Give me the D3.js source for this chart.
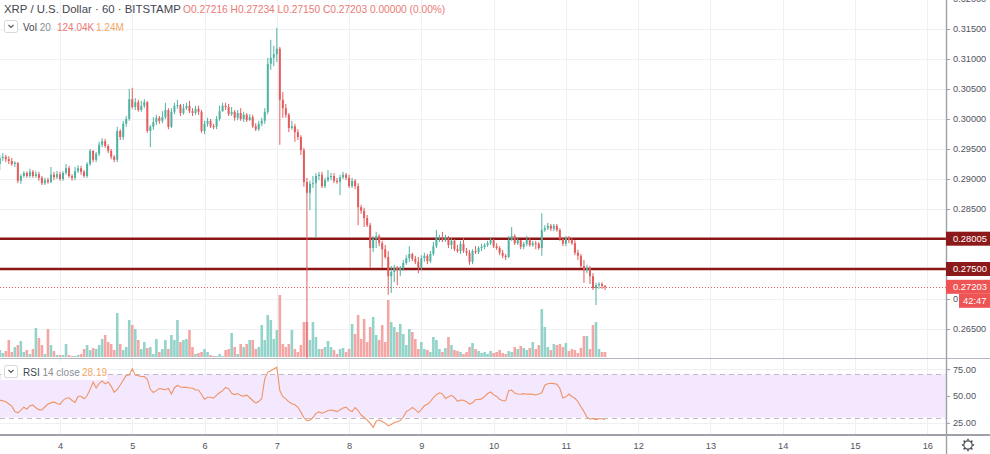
<!DOCTYPE html>
<html><head><meta charset="utf-8">
<script src="https://cdn.jsdelivr.net/npm/d3@7"></script>
<style>
body{margin:0;background:#fff;}
svg{display:block;font-family:"Liberation Sans",Arial,sans-serif;}
</style>
</head><body>
<svg id="chart" width="990" height="454"></svg>
<script>
// ---------- DATA ----------
const startDay = 3 + 4/24;          // first hourly candle: day 3, 04:00
const firstOpen = 0.2925;
const close = [
0.2935,0.2937,0.2933,0.2930,0.2925,0.2927,0.2897,0.2905,0.2910,0.2905,
0.2912,0.2905,0.2908,0.2902,0.2893,0.2898,0.2895,0.2907,0.2903,0.2908,
0.2900,0.2910,0.2918,0.2905,0.2902,0.2913,0.2918,0.2912,0.2905,0.2925,
0.2947,0.2932,0.2942,0.2957,0.2963,0.2955,0.2947,0.2937,0.2932,0.2980,
0.2970,0.2992,0.3000,0.3033,0.3020,0.3028,0.3015,0.3022,0.3028,0.2980,
0.2987,0.2995,0.3002,0.2997,0.3003,0.3015,0.2987,0.3012,0.3022,0.3023,
0.3010,0.3018,0.3022,0.3013,0.3010,0.3017,0.3012,0.2980,0.2992,0.2997,
0.2988,0.2987,0.3000,0.3013,0.3022,0.3020,0.3008,0.3012,0.3002,0.3010,
0.3000,0.3007,0.2998,0.3003,0.2988,0.2983,0.2992,0.2997,0.3012,0.3092,
0.3102,0.3108,0.3117,0.3032,0.3018,0.3007,0.2985,0.2988,0.2978,0.2970,
0.2948,0.2895,0.2877,0.2892,0.2893,0.2905,0.2907,0.2888,0.2898,0.2903,
0.2905,0.2897,0.2895,0.2903,0.2907,0.2902,0.2888,0.2897,0.2888,0.2853,
0.2847,0.2835,0.2823,0.2785,0.2800,0.2805,0.2793,0.2783,0.2770,0.2738,
0.2745,0.2752,0.2748,0.2752,0.2760,0.2768,0.2775,0.2767,0.2762,0.2752,
0.2768,0.2772,0.2763,0.2775,0.2788,0.2802,0.2803,0.2798,0.2803,0.2790,
0.2797,0.2783,0.2780,0.2792,0.2780,0.2777,0.2762,0.2780,0.2778,0.2785,
0.2787,0.2790,0.2793,0.2798,0.2788,0.2785,0.2777,0.2772,0.2770,0.2798,
0.2805,0.2793,0.2798,0.2787,0.2792,0.2798,0.2790,0.2793,0.2792,0.2785,
0.2815,0.2818,0.2822,0.2817,0.2822,0.2815,0.2800,0.2792,0.2802,0.2798,
0.2793,0.2777,0.2772,0.2755,0.2747,0.2752,0.2738,0.2718,0.2723,0.2725,
0.27216,0.27203];
const high = [
0.2940,0.2943,0.2940,0.2938,0.2935,0.2930,0.2928,0.2908,0.2913,0.2913,
0.2917,0.2915,0.2913,0.2912,0.2905,0.2902,0.2902,0.2920,0.2912,0.2913,
0.2912,0.2913,0.2925,0.2922,0.2908,0.2920,0.2923,0.2922,0.2915,0.2928,
0.2950,0.2948,0.2945,0.2962,0.2968,0.2967,0.2958,0.2950,0.2940,0.2987,
0.2983,0.2997,0.3005,0.3050,0.3052,0.3035,0.3032,0.3030,0.3033,0.3030,
0.2990,0.3003,0.3007,0.3005,0.3013,0.3027,0.3018,0.3018,0.3027,0.3032,
0.3025,0.3025,0.3027,0.3030,0.3018,0.3022,0.3022,0.3015,0.2997,0.3002,
0.3000,0.2992,0.3005,0.3022,0.3027,0.3027,0.3025,0.3020,0.3015,0.3015,
0.3018,0.3012,0.3010,0.3008,0.3007,0.2993,0.2997,0.3002,0.3018,0.3102,
0.3132,0.3122,0.3152,0.3120,0.3045,0.3025,0.3010,0.2997,0.2992,0.2983,
0.2973,0.2952,0.2902,0.2897,0.2905,0.2910,0.2912,0.2912,0.2902,0.2915,
0.2910,0.2910,0.2902,0.2907,0.2912,0.2910,0.2907,0.2902,0.2900,0.2893,
0.2857,0.2852,0.2840,0.2827,0.2805,0.2812,0.2808,0.2797,0.2790,0.2780,
0.2755,0.2757,0.2755,0.2755,0.2765,0.2773,0.2788,0.2777,0.2772,0.2770,
0.2773,0.2777,0.2775,0.2780,0.2795,0.2815,0.2807,0.2812,0.2807,0.2805,
0.2802,0.2800,0.2790,0.2797,0.2802,0.2785,0.2782,0.2783,0.2788,0.2788,
0.2792,0.2793,0.2797,0.2803,0.2800,0.2793,0.2788,0.2782,0.2775,0.2805,
0.2820,0.2808,0.2802,0.2798,0.2795,0.2805,0.2802,0.2797,0.2797,0.2795,
0.2843,0.2823,0.2827,0.2825,0.2825,0.2825,0.2818,0.2803,0.2805,0.2805,
0.2802,0.2798,0.2782,0.2775,0.2765,0.2757,0.2755,0.2743,0.2727,0.2728,
0.2728,0.27234];
const low = [
0.2915,0.2930,0.2928,0.2925,0.2922,0.2920,0.2893,0.2892,0.2902,0.2902,
0.2902,0.2902,0.2902,0.2897,0.2890,0.2890,0.2892,0.2893,0.2898,0.2900,
0.2897,0.2897,0.2907,0.2902,0.2897,0.2898,0.2910,0.2907,0.2902,0.2902,
0.2922,0.2928,0.2928,0.2938,0.2953,0.2952,0.2943,0.2933,0.2928,0.2928,
0.2965,0.2965,0.2987,0.2997,0.3017,0.3015,0.3012,0.3012,0.3018,0.2977,
0.2953,0.2982,0.2990,0.2992,0.2993,0.3000,0.2983,0.2985,0.3008,0.3017,
0.3005,0.3007,0.3015,0.3010,0.3005,0.3007,0.3007,0.2977,0.2975,0.2987,
0.2985,0.2983,0.2983,0.2997,0.3012,0.3015,0.3005,0.3005,0.2997,0.2998,
0.2997,0.2995,0.2995,0.2997,0.2985,0.2980,0.2980,0.2988,0.2992,0.3008,
0.3082,0.3088,0.3095,0.2957,0.3002,0.3002,0.2978,0.2982,0.2962,0.2965,
0.2940,0.2887,0.2530,0.2848,0.2885,0.2802,0.2898,0.2885,0.2885,0.2895,
0.2898,0.2893,0.2892,0.2873,0.2900,0.2898,0.2885,0.2885,0.2883,0.2823,
0.2842,0.2820,0.2820,0.2752,0.2778,0.2785,0.2788,0.2752,0.2767,0.2707,
0.2710,0.2728,0.2723,0.2738,0.2747,0.2757,0.2762,0.2763,0.2758,0.2743,
0.2748,0.2762,0.2758,0.2760,0.2772,0.2785,0.2795,0.2795,0.2795,0.2785,
0.2783,0.2780,0.2777,0.2775,0.2777,0.2772,0.2757,0.2758,0.2775,0.2775,
0.2780,0.2783,0.2787,0.2790,0.2785,0.2782,0.2773,0.2768,0.2765,0.2768,
0.2797,0.2790,0.2790,0.2783,0.2783,0.2788,0.2787,0.2787,0.2783,0.2782,
0.2772,0.2812,0.2815,0.2813,0.2813,0.2812,0.2797,0.2788,0.2788,0.2793,
0.2790,0.2773,0.2765,0.2752,0.2727,0.2743,0.2725,0.2715,0.2690,0.2717,
0.2717,0.27150];
// volume, thousands of XRP
const volume = [
175,100,150,425,125,250,300,400,125,175,
75,200,725,475,300,75,700,300,150,50,
50,50,325,50,25,25,50,75,200,300,
175,225,200,300,450,550,375,325,175,1100,
325,175,250,925,800,700,425,200,375,225,
250,75,450,125,200,425,200,550,425,925,
375,425,450,675,250,75,100,125,200,125,
50,25,25,75,25,175,200,600,250,75,
325,250,325,425,425,200,250,800,425,1050,
925,450,675,1550,325,250,325,675,200,125,
300,875,875,425,875,500,200,200,250,400,
250,175,75,200,225,125,200,825,575,1050,
450,950,375,750,1000,550,425,800,375,1425,
875,750,625,825,575,300,700,625,450,200,
375,200,175,125,500,425,200,125,225,500,
300,175,150,125,75,125,250,350,200,150,
100,125,75,150,100,125,175,100,75,150,
125,250,200,275,225,175,225,375,200,300,
1200,750,250,175,325,300,325,250,350,150,
200,175,100,225,525,525,200,800,875,200,
125,124.04];
const rsi = [
46.2,45.5,44.7,42.6,40.6,35.5,34.4,36.9,39.6,37.7,
41.0,41.5,39.1,37.3,37.0,40.0,42.5,43.6,44.5,43.1,
42.3,46.0,48.0,48.4,45.8,44.1,49.7,49.7,47.4,50.2,
56.4,62.9,57.5,61.6,64.0,61.3,63.0,59.0,53.4,56.1,
60.2,64.6,69.2,69.5,75.3,69.4,68.9,68.1,68.0,65.5,
56.2,53.3,55.0,56.9,56.4,55.8,57.0,51.9,57.7,59.8,
58.3,58.0,58.0,57.5,57.5,55.6,55.6,51.4,47.0,48.9,
48.8,48.0,50.8,53.0,55.0,58.0,56.9,52.6,51.3,52.3,
50.5,49.9,50.8,48.4,45.8,43.4,44.8,47.7,66.2,72.0,
73.5,75.1,76.8,55.0,49.4,47.4,44.6,42.9,41.8,39.5,
35.0,29.8,27.0,27.5,30.0,33.9,35.2,34.0,35.2,36.6,
37.0,36.4,35.5,37.2,38.9,39.6,36.9,35.5,39.3,36.5,
32.3,30.0,27.8,24.5,20.7,26.5,27.6,26.3,24.8,22.2,
23.5,25.4,26.1,27.2,30.5,35.6,37.1,39.3,37.4,34.6,
37.3,40.9,42.4,44.8,48.6,51.2,53.0,52.0,47.6,49.3,
50.6,48.6,45.0,46.2,46.0,44.7,42.5,43.8,46.6,46.9,
47.3,49.5,52.3,53.8,51.2,49.6,47.0,45.6,45.6,55.0,
55.5,52.7,51.9,51.6,52.2,51.7,51.8,51.5,50.9,51.8,
53.0,60.0,61.4,61.8,61.5,61.0,57.0,48.2,49.2,51.8,
49.5,47.9,44.9,40.0,35.5,30.4,28.4,29.2,27.9,28.9,
28.8,28.19];
const priceTicks = [0.265,0.27,0.275,0.28,0.285,0.29,0.295,0.30,0.305,0.31,0.315,0.32];
const rsiTicks = [25,50,75];
const rsiBand = [30,70];
const dayTicks = [4,5,6,7,8,9,10,11,12,13,14,15,16];
const levels = [0.28005, 0.275];
const lastPrice = 0.27203;
const countdown = "42:47";
const titleText = "XRP / U.S. Dollar · 60 · BITSTAMP";
const ohlcText = "O0.27216 H0.27234 L0.27150 C0.27203 0.00000 (0.00%)";
const volLegend = ["Vol", "20", "124.04K", "1.24M"];
const rsiLegend = ["RSI", "14 close", "28.19"];

// ---------- LAYOUT ----------
const W = 990, H = 454, plotR = 946;
const mainTop = 0, mainBot = 358, rsiTop = 359, rsiBot = 434;
const UP = "#4fb3a3", DOWN = "#e35d5d", UPV = "#93d3ca", DOWNV = "#f3a6a4";
const svg = d3.select("#chart");

const x = d3.scaleLinear().domain([3.1698, 16.2596]).range([0, plotR]);
const y = d3.scaleLinear().domain([0.26, 0.32]).range([359, -1]);
const yv = d3.scaleLinear().domain([0, d3.max(volume)]).range([357, 295]);
const yr = d3.scaleLinear().domain([25, 75]).range([422.9, 369.1]);

const candles = close.map((c, i) => ({
  t: startDay + i / 24,
  o: i === 0 ? firstOpen : close[i - 1],
  h: high[i], l: low[i], c: c, v: volume[i], r: rsi[i]
}));

svg.append("rect").attr("width", W).attr("height", H).attr("fill", "#fff");

const defs = svg.append("defs");
defs.append("clipPath").attr("id", "clipMain").append("rect")
  .attr("x", 0).attr("y", 0).attr("width", plotR).attr("height", mainBot);
defs.append("clipPath").attr("id", "clipRsi").append("rect")
  .attr("x", 0).attr("y", rsiTop).attr("width", plotR).attr("height", rsiBot - rsiTop);
// the countdown box hides the tail of the 0.27000 tick label
defs.append("clipPath").attr("id", "clipAxisLbl").append("rect")
  .attr("x", 0).attr("y", -20).attr("width", 12).attr("height", 40);

// grid
const grid = svg.append("g").attr("stroke", "#eef0f4").attr("stroke-width", 1);
priceTicks.forEach(p => {
  const yy = Math.round(y(p)) + 0.5;
  grid.append("line").attr("x1", 0).attr("x2", plotR).attr("y1", yy).attr("y2", yy);
});
rsiTicks.forEach(v => {
  const yy = Math.round(yr(v)) + 0.5;
  grid.append("line").attr("x1", 0).attr("x2", plotR).attr("y1", yy).attr("y2", yy);
});
dayTicks.forEach(d => {
  const xx = Math.round(x(d)) + 0.5;
  grid.append("line").attr("x1", xx).attr("x2", xx).attr("y1", 0).attr("y2", rsiBot);
});

// main pane
const main = svg.append("g").attr("clip-path", "url(#clipMain)");
main.append("g").selectAll("rect").data(candles).join("rect")
  .attr("x", d => x(d.t) - 1.3).attr("width", 2.6)
  .attr("y", d => yv(d.v)).attr("height", d => 357 - yv(d.v))
  .attr("fill", d => d.c >= d.o ? UPV : DOWNV);

// level lines
levels.forEach(p => {
  main.append("line").attr("x1", 0).attr("x2", plotR)
    .attr("y1", y(p)).attr("y2", y(p))
    .attr("stroke", "#8c1515").attr("stroke-width", 2.4);
});
main.append("line").attr("x1", 0).attr("x2", plotR)
  .attr("y1", Math.round(y(lastPrice)) + 0.5).attr("y2", Math.round(y(lastPrice)) + 0.5)
  .attr("stroke", "#e35d5d").attr("stroke-width", 1).attr("stroke-dasharray", "1,2");

const cg = main.append("g");
cg.selectAll("line").data(candles).join("line")
  .attr("x1", d => x(d.t)).attr("x2", d => x(d.t))
  .attr("y1", d => y(d.h)).attr("y2", d => y(d.l))
  .attr("stroke", d => d.c >= d.o ? UP : DOWN).attr("stroke-width", 1);
cg.selectAll("rect").data(candles).join("rect")
  .attr("x", d => x(d.t) - 1).attr("width", 2)
  .attr("y", d => y(Math.max(d.o, d.c)))
  .attr("height", d => Math.max(1, Math.abs(y(d.o) - y(d.c))))
  .attr("fill", d => d.c >= d.o ? UP : DOWN);

// RSI pane
const rp = svg.append("g").attr("clip-path", "url(#clipRsi)");
rp.append("rect").attr("x", 0).attr("width", plotR)
  .attr("y", yr(rsiBand[1])).attr("height", yr(rsiBand[0]) - yr(rsiBand[1]))
  .attr("fill", "#f4e8fe");
rsiBand.forEach(v => {
  rp.append("line").attr("x1", 0).attr("x2", plotR)
    .attr("y1", Math.round(yr(v)) + 0.5).attr("y2", Math.round(yr(v)) + 0.5)
    .attr("stroke", "#bdb8c4").attr("stroke-width", 1).attr("stroke-dasharray", "5,4");
});
rp.append("path").datum(candles)
  .attr("d", d3.line().x(d => x(d.t)).y(d => yr(d.r)))
  .attr("fill", "none").attr("stroke", "#ee9466").attr("stroke-width", 1.1);

// pane borders
svg.append("line").attr("x1", 0).attr("x2", W).attr("y1", 358.5).attr("y2", 358.5)
  .attr("stroke", "#b4b7bf").attr("stroke-width", 1.2);
svg.append("line").attr("x1", 0).attr("x2", W).attr("y1", 435).attr("y2", 435)
  .attr("stroke", "#9ea1a9").attr("stroke-width", 2);
svg.append("line").attr("x1", plotR + 0.5).attr("x2", plotR + 0.5).attr("y1", 0).attr("y2", H)
  .attr("stroke", "#9ea1a9").attr("stroke-width", 1.4);

// axes
const axisStyle = g => {
  g.select(".domain").remove();
  g.selectAll(".tick line").attr("stroke", "#9ea1a9");
  g.selectAll(".tick text").attr("fill", "#50535e").attr("font-size", 9.2)
    .attr("font-family", "Liberation Sans, Arial, sans-serif");
};
const py = svg.append("g").attr("transform", `translate(${plotR},0)`)
  .call(d3.axisRight(y).tickValues(priceTicks).tickFormat(d3.format(".5f")).tickSize(4).tickPadding(3))
  .call(axisStyle);
py.selectAll(".tick").filter(d => Math.abs(d - 0.27) < 1e-9).select("text")
  .attr("clip-path", "url(#clipAxisLbl)");
svg.append("g").attr("transform", `translate(${plotR},0)`)
  .call(d3.axisRight(yr).tickValues(rsiTicks).tickFormat(d3.format(".2f")).tickSize(4).tickPadding(3))
  .call(axisStyle);
svg.append("g").attr("transform", `translate(0,${rsiBot})`)
  .call(d3.axisBottom(x).tickValues(dayTicks).tickFormat(d3.format("d")).tickSize(0).tickPadding(8))
  .call(axisStyle);

// price labels on axis
function axisLabel(p, fill, txt) {
  const yy = y(p);
  svg.append("rect").attr("x", plotR).attr("y", yy - 7).attr("width", W - plotR).attr("height", 14).attr("fill", fill);
  svg.append("text").attr("x", 953).attr("y", yy + 3.4).attr("fill", "#fff")
    .attr("font-size", 9.4).text(txt);
}
levels.forEach(p => axisLabel(p, "#8c1a1a", d3.format(".5f")(p)));
axisLabel(lastPrice, "#ee5454", d3.format(".5f")(lastPrice));
svg.append("rect").attr("x", 959).attr("y", y(lastPrice) + 7).attr("width", W - 959).attr("height", 14).attr("fill", "#ee5454");
svg.append("text").attr("x", 963).attr("y", y(lastPrice) + 17.4).attr("fill", "#fff")
  .attr("font-size", 9.4).text(countdown);

// legends
const lg = svg.append("g");
lg.append("text").attr("x", 4).attr("y", 13).attr("font-size", 11.4).attr("fill", "#43464f").text(titleText);
lg.append("text").attr("x", 183).attr("y", 13).attr("font-size", 10.2).attr("fill", "#e97a74").text(ohlcText);

function chevronBox(x0, y0) {
  lg.append("rect").attr("x", x0 + 0.5).attr("y", y0 + 0.5).attr("width", 13).attr("height", 12)
    .attr("rx", 2).attr("fill", "#fff").attr("stroke", "#d5d7dc");
  lg.append("path").attr("d", `M${x0 + 4.5},${y0 + 5} l2.5,2.5 l2.5,-2.5`)
    .attr("fill", "none").attr("stroke", "#555").attr("stroke-width", 1.1);
}
chevronBox(4, 20);
const v2 = lg.append("text").attr("x", 23).attr("y", 30.5).attr("font-size", 10);
v2.append("tspan").attr("fill", "#43464f").text(volLegend[0]);
v2.append("tspan").attr("fill", "#8a8d95").text(" " + volLegend[1]);
lg.append("text").attr("x", 57).attr("y", 30.5).attr("font-size", 10).attr("fill", "#e97a74").text(volLegend[2]);
lg.append("text").attr("x", 96).attr("y", 30.5).attr("font-size", 10).attr("fill", "#f2a768").text(volLegend[3]);

lg.append("rect").attr("x", 1).attr("y", 362).attr("width", 106).attr("height", 18).attr("fill", "#fff").attr("opacity", 0.85);
chevronBox(4, 365);
const r2 = lg.append("text").attr("x", 23).attr("y", 375.5).attr("font-size", 10);
r2.append("tspan").attr("fill", "#43464f").text(rsiLegend[0]);
r2.append("tspan").attr("fill", "#8a8d95").text(" " + rsiLegend[1]);
lg.append("text").attr("x", 82).attr("y", 375.5).attr("font-size", 10).attr("fill", "#f2a768").text(rsiLegend[2]);

// settings gear
const gear = svg.append("g").attr("transform", "translate(968,445)")
  .attr("stroke", "#50535e").attr("fill", "none").attr("stroke-width", 1.2);
gear.append("circle").attr("r", 4.2);
d3.range(8).forEach(k => {
  const a = k * Math.PI / 4;
  gear.append("line").attr("x1", Math.cos(a) * 4.2).attr("y1", Math.sin(a) * 4.2)
    .attr("x2", Math.cos(a) * 6.2).attr("y2", Math.sin(a) * 6.2).attr("stroke-width", 1.6);
});
</script>
</body></html>
